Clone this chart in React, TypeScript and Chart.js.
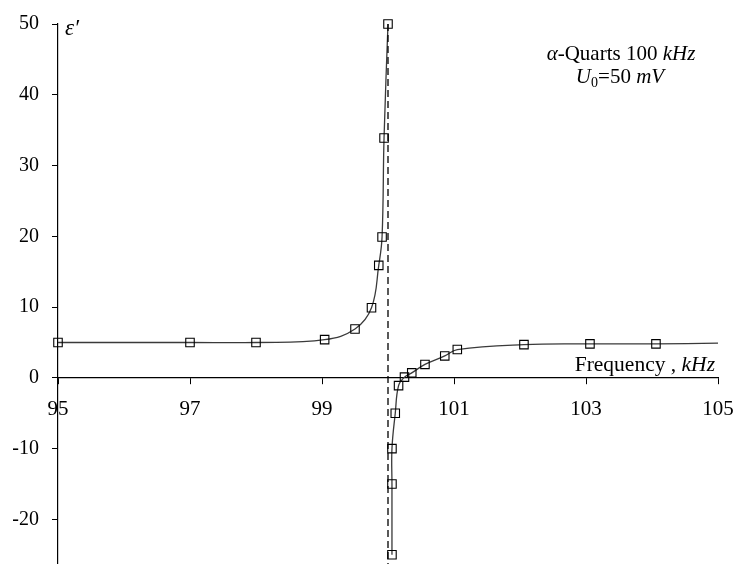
import React, { useEffect, useRef } from 'react';
import { Chart, registerables } from 'chart.js';

Chart.register(...registerables);

// Left branch (below resonance), frequency in kHz and ε'
const lowBranchX = [95, 97, 98, 99.04, 99.5, 99.75, 99.86, 99.91, 99.94, 100.0];
const lowBranchY = [5, 5, 5, 5.4, 6.9, 9.9, 15.9, 19.9, 33.9, 50];

// Right branch (above resonance); last point only continues the curve (no marker)
const highBranchX = [100.06, 100.06, 100.06, 100.11, 100.16, 100.25, 100.36, 100.56, 100.86, 101.05, 102.06, 103.06, 104.06, 105];
const highBranchY = [-25, -15, -10, -5, -1.1, 0.1, 0.7, 1.9, 3.1, 4.0, 4.7, 4.8, 4.8, 4.9];
const highBranchMarker = [true, true, true, true, true, true, true, true, true, true, true, true, true, false];

// Resonance asymptote
const asymptoteX = [100, 100];
const asymptoteY = [50, -26.3];

const xTicks = [95, 97, 99, 101, 103, 105];
const yTicks = [-20, -10, 0, 10, 20, 30, 40, 50];

const X_MIN = 95;
const X_MAX = 105;
const Y_MIN = -26.3;
const Y_MAX = 50;

const SERIF = '"Liberation Serif", "Times New Roman", serif';

type Run = { text: string; font: string; dy?: number };

const textPlugin = {
  id: 'chartTexts',
  afterDraw(chart: any) {
    const ctx: CanvasRenderingContext2D = chart.ctx;
    ctx.save();
    ctx.fillStyle = '#000';
    ctx.textBaseline = 'alphabetic';
    ctx.textAlign = 'left';
    const drawRuns = (runs: Run[], x: number, y: number, align: 'left' | 'center' | 'right') => {
      let total = 0;
      runs.forEach((r) => {
        ctx.font = r.font;
        total += ctx.measureText(r.text).width;
      });
      let cx = align === 'center' ? x - total / 2 : align === 'right' ? x - total : x;
      runs.forEach((r) => {
        ctx.font = r.font;
        ctx.fillText(r.text, cx, y + (r.dy || 0));
        cx += ctx.measureText(r.text).width;
      });
    };
    const n = `21px ${SERIF}`;
    const it = `italic 21px ${SERIF}`;
    const sub = `14px ${SERIF}`;
    const tn = `21.5px ${SERIF}`;
    const ti = `italic 21.5px ${SERIF}`;

    // y-axis title
    drawRuns([{ text: '\u03b5\u2032', font: `italic 23px ${SERIF}` }], 65, 35, 'left');

    // x-axis title
    drawRuns([
      { text: 'Frequency , ', font: tn },
      { text: 'kHz', font: ti },
    ], 715, 371, 'right');

    // annotation
    drawRuns([
      { text: '\u03b1', font: it },
      { text: '-Quarts 100 ', font: n },
      { text: 'kHz', font: it },
    ], 621, 60, 'center');
    drawRuns([
      { text: 'U', font: it },
      { text: '0', font: sub, dy: 4 },
      { text: '=50 ', font: n },
      { text: 'mV', font: it },
    ], 620, 83, 'center');
    ctx.restore();
  },
};

export default function App() {
  const canvasRef = useRef<HTMLCanvasElement | null>(null);

  useEffect(() => {
    const canvas = canvasRef.current;
    if (!canvas) return;

    const lowData = lowBranchX.map((x, i) => ({ x, y: lowBranchY[i] }));
    const highData = highBranchX.map((x, i) => ({ x, y: highBranchY[i] }));
    const asymData = asymptoteX.map((x, i) => ({ x, y: asymptoteY[i] }));

    const curveStyle = {
      showLine: true,
      borderColor: '#3a3a3a',
      borderWidth: 1.3,
      tension: 0.4,
      pointStyle: 'rect',
      pointBorderColor: '#000',
      pointBackgroundColor: 'rgba(0,0,0,0)',
      pointBorderWidth: 1.1,
      clip: false,
    };

    const chart = new Chart(canvas, {
      type: 'scatter',
      data: {
        datasets: [
          {
            data: asymData,
            showLine: true,
            borderColor: '#000',
            borderWidth: 1.3,
            borderDash: [7, 4],
            pointRadius: 0,
            clip: false,
          } as any,
          {
            ...curveStyle,
            data: lowData,
            pointRadius: 6,
          } as any,
          {
            ...curveStyle,
            data: highData,
            pointRadius: (c: any) => (highBranchMarker[c.dataIndex] ? 6 : 0),
          } as any,
        ],
      },
      options: {
        responsive: false,
        animation: false,
        events: [],
        layout: { autoPadding: false, padding: { top: 24, right: 19, bottom: 0, left: 0 } },
        plugins: {
          legend: { display: false },
          tooltip: { enabled: false },
        },
        scales: {
          x: {
            type: 'linear',
            position: { y: 0 } as any,
            min: X_MIN,
            max: X_MAX,
            afterBuildTicks: (scale: any) => {
              scale.ticks = xTicks.map((v) => ({ value: v }));
            },
            afterFit: (scale: any) => {
              scale.paddingLeft = 0;
              scale.paddingRight = 0;
              scale.paddingTop = 0;
              scale.paddingBottom = 0;
            },
            grid: {
              drawOnChartArea: false,
              drawTicks: true,
              tickLength: 6,
              color: '#000',
              tickColor: '#000',
            },
            border: { display: true, color: '#000', width: 1.2 },
            ticks: {
              color: '#000',
              padding: 13,
              maxRotation: 0,
              autoSkip: false,
              font: { family: SERIF, size: 21 },
            },
          },
          y: {
            type: 'linear',
            position: 'left',
            min: Y_MIN,
            max: Y_MAX,
            afterBuildTicks: (scale: any) => {
              scale.ticks = yTicks.map((v) => ({ value: v }));
            },
            afterFit: (scale: any) => {
              scale.width = 58;
              scale.paddingTop = 0;
              scale.paddingBottom = 0;
            },
            grid: {
              drawOnChartArea: false,
              drawTicks: true,
              tickLength: 6,
              color: '#000',
              tickColor: '#000',
            },
            border: { display: true, color: '#000', width: 1.2 },
            ticks: {
              color: '#000',
              padding: 13,
              autoSkip: false,
              font: { family: SERIF, size: 20 },
            },
          },
        },
      },
      plugins: [textPlugin],
    });

    return () => chart.destroy();
  }, []);

  return (
    <div style={{ position: 'absolute', left: 0, top: 0, width: 737, height: 564, background: '#fff' }}>
      <canvas ref={canvasRef} width={737} height={564} style={{ width: 737, height: 564, display: 'block' }} />
    </div>
  );
}
